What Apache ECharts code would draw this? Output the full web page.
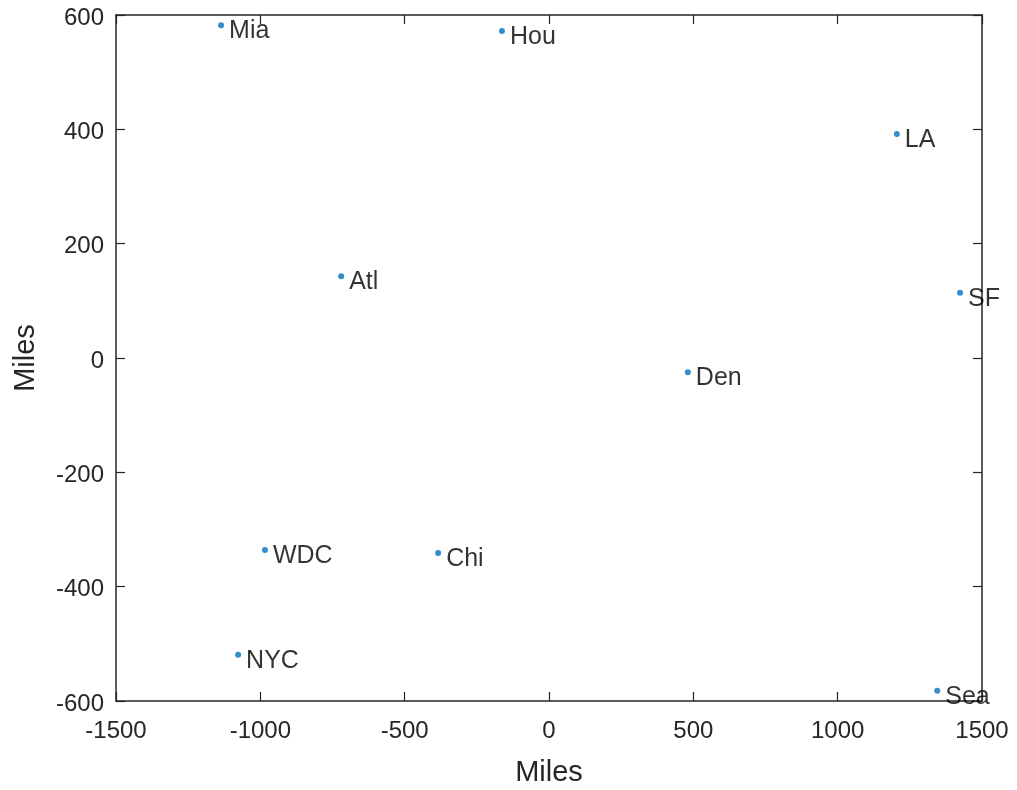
<!DOCTYPE html>
<html>
<head>
<meta charset="utf-8">
<script src="https://cdn.jsdelivr.net/npm/echarts@6/dist/echarts.min.js"></script>
<style>
html,body{margin:0;padding:0;background:#fff;}
#chart{width:1017px;height:790px;}
</style>
</head>
<body>
<div id="chart"></div>
<script>
const cities = ['Atl','Chi','Den','Hou','LA','Mia','NYC','SF','Sea','WDC'];
const xMiles = [-720, -384, 481, -163, 1205, -1136, -1077, 1424, 1345, -984];
const yMiles = [143, -341, -25, 572, 392, 582, -519, 114, -582, -336];
const xTicks = {min: -1500, max: 1500, interval: 500};
const yTicks = {min: -600, max: 600, interval: 200};

const FONT = '"Liberation Sans", Arial, Helvetica, sans-serif';
const AX = '#262626';

const points = cities.map((c, i) => ({name: c, value: [xMiles[i], yMiles[i]]}));

const axisLine = {show: true, onZero: false, lineStyle: {color: AX, width: 1.5}};
const axisTick = {show: true, inside: true, length: 9, lineStyle: {color: AX, width: 1.2}};
const plain = v => String(v);

const chart = echarts.init(document.getElementById('chart'), null, {renderer: 'canvas'});
chart.setOption({
  animation: false,
  backgroundColor: '#fff',
  grid: {left: 116, right: 35, top: 15, bottom: 89, outerBoundsMode: 'none', containLabel: false},
  xAxis: [{
    type: 'value', position: 'bottom',
    min: xTicks.min, max: xTicks.max, interval: xTicks.interval,
    name: 'Miles', nameLocation: 'middle', nameGap: 57,
    nameTextStyle: {fontFamily: FONT, fontSize: 29, color: AX},
    axisLine, axisTick,
    axisLabel: {fontFamily: FONT, fontSize: 24, color: AX, margin: 18, formatter: plain},
    splitLine: {show: false}
  }, {
    type: 'value', position: 'top',
    min: xTicks.min, max: xTicks.max, interval: xTicks.interval,
    axisLine, axisTick, axisLabel: {show: false}, splitLine: {show: false}
  }],
  yAxis: [{
    type: 'value', position: 'left',
    min: yTicks.min, max: yTicks.max, interval: yTicks.interval,
    name: 'Miles', nameLocation: 'middle', nameGap: 76, nameRotate: 90,
    nameTextStyle: {fontFamily: FONT, fontSize: 29, color: AX},
    axisLine, axisTick,
    axisLabel: {fontFamily: FONT, fontSize: 24, color: AX, margin: 12,
                verticalAlign: 'top', lineHeight: 6, formatter: plain},
    splitLine: {show: false}
  }, {
    type: 'value', position: 'right',
    min: yTicks.min, max: yTicks.max, interval: yTicks.interval,
    axisLine, axisTick, axisLabel: {show: false}, splitLine: {show: false}
  }],
  series: [{
    type: 'scatter',
    xAxisIndex: 0, yAxisIndex: 0,
    data: points,
    symbol: 'circle',
    symbolSize: 6,
    itemStyle: {color: '#0072BD'},
    clip: false,
    label: {
      show: true, position: 'right', distance: 5, offset: [0, 6],
      formatter: p => p.name,
      fontFamily: FONT, fontSize: 25, color: '#000'
    },
    emphasis: {disabled: true}
  }]
});
</script>
</body>
</html>
